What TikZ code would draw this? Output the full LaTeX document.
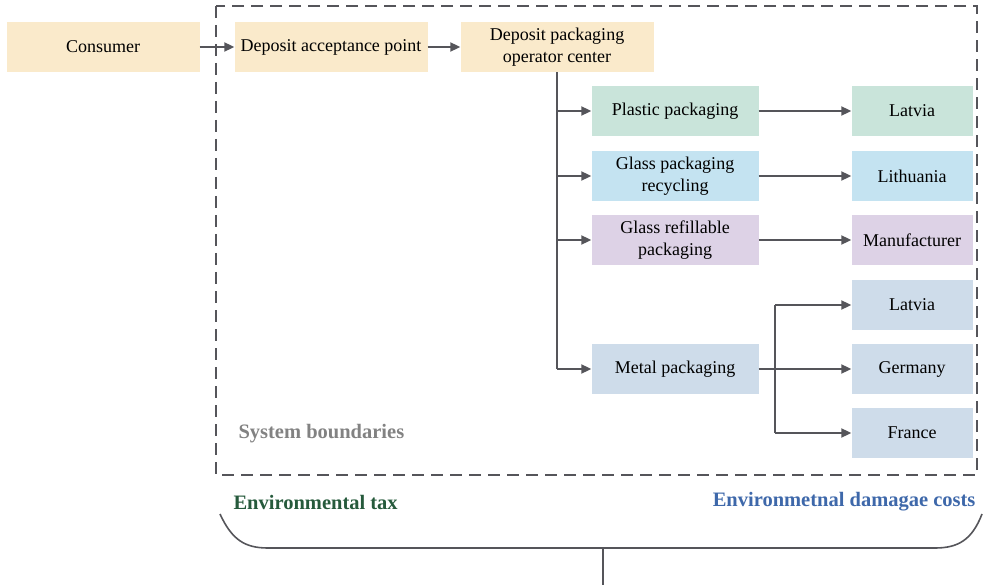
\documentclass[tikz,border=0pt]{standalone}
\usepackage{fontspec}
\setmainfont{Liberation Serif}
\usepackage{tikz}
\usetikzlibrary{positioning,calc,arrows.meta}
\definecolor{boxCream}{RGB}{250,234,203}
\definecolor{boxGreen}{RGB}{201,228,218}
\definecolor{boxBlue}{RGB}{196,227,241}
\definecolor{boxPurple}{RGB}{221,210,230}
\definecolor{boxSteel}{RGB}{206,220,234}
\definecolor{lineGray}{RGB}{85,85,90}
\definecolor{taxGreen}{RGB}{38,90,60}
\definecolor{costBlue}{RGB}{62,104,170}
\definecolor{boundGray}{RGB}{130,130,130}
\tikzset{
    box/.style={
        inner sep=0pt,
        minimum height=50pt,
        align=center,
        font=\fontsize{18}{22}\selectfont
    },
    flow/.style={
        draw=lineGray,
        line width=2pt,
        -{Triangle[length=10pt,width=9pt]}
    },
    label/.style={
        font=\bfseries\fontsize{20.5}{24}\selectfont
    }
}
\begin{document}
\begin{tikzpicture}[x=1pt,y=-1pt]
    \useasboundingbox (0,0) rectangle (990,585);
    % boundary
    \draw[lineGray, line width=2pt, dash pattern=on 12pt off 7pt] (216,6) rectangle (977,475);
    \node[label, text=boundGray, anchor=west] (bound) at (235,434) {System boundaries};
    % top row
    \node[box, fill=boxCream, minimum width=193pt] (consumer) at (103,47) {Consumer};
    \node[box, fill=boxCream, minimum width=193pt] (accept) at (331,47) {Deposit acceptance point};
    \node[box, fill=boxCream, minimum width=193pt] (operator) at (557,47) {Deposit packaging\\operator center};
    % packaging
    \node[box, fill=boxGreen, minimum width=167pt] (plastic) at (675,111) {Plastic packaging};
    \node[box, fill=boxBlue, minimum width=167pt] (glassrec) at (675,176) {Glass packaging\\recycling};
    \node[box, fill=boxPurple, minimum width=167pt] (glassref) at (675,240) {Glass refillable\\packaging};
    \node[box, fill=boxSteel, minimum width=167pt] (metal) at (675,369) {Metal packaging};
    % destinations
    \node[box, fill=boxGreen, minimum width=121pt] (latviaA) at (912,111) {Latvia};
    \node[box, fill=boxBlue, minimum width=121pt] (lithuania) at (912,176) {Lithuania};
    \node[box, fill=boxPurple, minimum width=121pt] (manufacturer) at (912,240) {Manufacturer};
    \node[box, fill=boxSteel, minimum width=121pt] (latviaB) at (912,305) {Latvia};
    \node[box, fill=boxSteel, minimum width=121pt] (germany) at (912,369) {Germany};
    \node[box, fill=boxSteel, minimum width=121pt] (france) at (912,433) {France};
    % connectors
    \draw[flow] (consumer) -- (accept);
    \draw[flow] (accept) -- (operator);
    \coordinate (trunk) at (operator.south);
    \draw[lineGray, line width=2pt] (trunk) -- (trunk |- metal);
    \foreach \dst in {plastic, glassrec, glassref, metal} {
        \draw[flow] (trunk |- \dst) -- (\dst.west);
    }
    \draw[flow] (plastic) -- (latviaA);
    \draw[flow] (glassrec) -- (lithuania);
    \draw[flow] (glassref) -- (manufacturer);
    \draw[flow] (metal) -- (germany);
    \coordinate (split) at (775,369);
    \draw[lineGray, line width=2pt] (split |- latviaB) -- (split |- france);
    \draw[flow] (split |- latviaB) -- (latviaB.west);
    \draw[flow] (split |- france) -- (france.west);
    % costs
    \node[label, text=taxGreen, anchor=west] (tax) at (230,502) {Environmental tax};
    \node[label, text=costBlue, anchor=east] (cost) at (979,502) {Environmetnal damagae costs};
    \coordinate (braceL) at (220,514);
    \coordinate (braceR) at (982,514);
    \coordinate (braceM) at (603,548);
    \coordinate (braceEnd) at (603,585);
    \draw[lineGray, line width=1.6pt] (braceL) .. controls (232,540) and (245,548) .. (268,548) -- (935,548) .. controls (958,548) and (972,540) .. (braceR);
    \draw[lineGray, line width=1.6pt] (braceM) -- (braceEnd);
\end{tikzpicture}
\end{document}
